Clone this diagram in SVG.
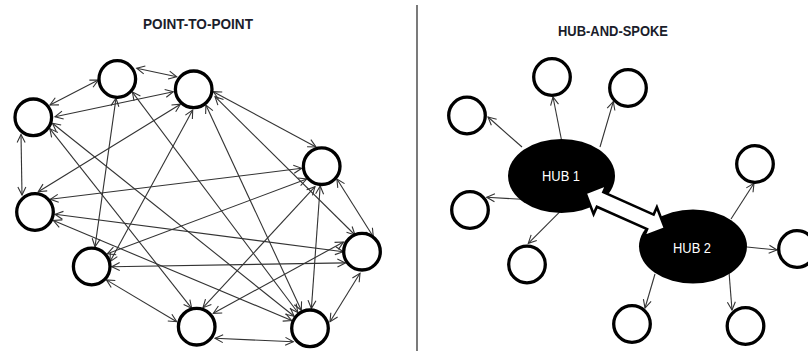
<svg xmlns="http://www.w3.org/2000/svg" width="808" height="351" viewBox="0 0 808 351">
  <defs>
    <!-- open V arrowhead, tip at the line end -->
    <marker id="vhead" viewBox="-10 -6 12 12" refX="0" refY="0" markerWidth="12" markerHeight="12" markerUnits="userSpaceOnUse" orient="auto-start-reverse" overflow="visible">
      <path d="M-8,-4 L0,0 L-8,4" fill="none" stroke="#333" stroke-width="1.1" stroke-linejoin="miter"/>
    </marker>
  </defs>
  <style>
    .title { font-family: "Liberation Sans", Arial, sans-serif; font-weight: bold; font-size: 15px; fill: #1b1d2b; }
    .node { fill: #fff; stroke: #000; stroke-width: 3.3; }
    .hub { fill: #000; }
    .hublabel { font-family: "Liberation Sans", Arial, sans-serif; font-size: 14.5px; fill: #fff; text-anchor: middle; }
    .both { stroke: #333; stroke-width: 1.1; fill: none; marker-start: url(#vhead); marker-end: url(#vhead); }
    .spoke { stroke: #333; stroke-width: 1.1; fill: none; marker-end: url(#vhead); }
    .big { fill: #fff; stroke: #000; stroke-width: 2.6; stroke-linejoin: miter; }
  </style>

  <rect x="0" y="0" width="808" height="351" fill="#fff"/>

  <!-- headings and divider -->
  <text class="title" x="143" y="29" textLength="110" lengthAdjust="spacingAndGlyphs">POINT-TO-POINT</text>
  <text class="title" x="558" y="36" textLength="110" lengthAdjust="spacingAndGlyphs">HUB-AND-SPOKE</text>
  <line x1="417" y1="5" x2="417" y2="351" stroke="#222" stroke-width="1.2"/>

  <!-- mesh links, every pair arrowed both ways -->
  <g id="connectors">
    <line class="both" x1="50" y1="105" x2="98.3" y2="80"/>
    <line class="both" x1="136.7" y1="68.3" x2="176.7" y2="76.7"/>
    <line class="both" x1="55" y1="116.7" x2="173.3" y2="91.7"/>
    <line class="both" x1="21" y1="134.5" x2="22" y2="195"/>
    <line class="both" x1="116" y1="98.3" x2="95" y2="246.7"/>
    <line class="both" x1="180.4" y1="104.2" x2="38.3" y2="191.7"/>
    <line class="both" x1="192.7" y1="110" x2="110" y2="261.7"/>
    <line class="both" x1="132.4" y1="92.1" x2="297.8" y2="312.5"/>
    <line class="both" x1="213.3" y1="91.7" x2="316" y2="147"/>
    <line class="both" x1="215" y1="96.7" x2="355" y2="235"/>
    <line class="both" x1="205.9" y1="105.1" x2="301.3" y2="310.3"/>
    <line class="both" x1="301.7" y1="168.3" x2="50.3" y2="199.3"/>
    <line class="both" x1="306.7" y1="179" x2="107.3" y2="253.8"/>
    <line class="both" x1="315" y1="186.7" x2="203" y2="307.7"/>
    <line class="both" x1="320.2" y1="186" x2="311.4" y2="308.4"/>
    <line class="both" x1="336.9" y1="179" x2="373.3" y2="236.7"/>
    <line class="both" x1="55" y1="214.3" x2="343.3" y2="251.7"/>
    <line class="both" x1="53.4" y1="220.5" x2="291.6" y2="320.5"/>
    <line class="both" x1="111.7" y1="266.7" x2="345.4" y2="262.9"/>
    <line class="both" x1="106.4" y1="279.9" x2="176.7" y2="321.7"/>
    <line class="both" x1="213.3" y1="313.3" x2="343.5" y2="242"/>
    <line class="both" x1="215" y1="338.3" x2="293.3" y2="341.7"/>
    <line class="both" x1="360" y1="273.3" x2="330" y2="321.7"/>
    <line class="both" x1="49.8" y1="128.6" x2="191.7" y2="308.3"/>
    <line class="both" x1="52.4" y1="123.2" x2="294.1" y2="316.2"/>

    <!-- spokes from the hubs -->
    <line class="spoke" x1="522" y1="147" x2="488" y2="117"/>
    <line class="spoke" x1="561.5" y1="140" x2="553" y2="97"/>
    <line class="spoke" x1="600" y1="147" x2="613.3" y2="101.7"/>
    <line class="spoke" x1="521.7" y1="199.3" x2="486.7" y2="197.3"/>
    <line class="spoke" x1="560" y1="211.7" x2="528.3" y2="243.3"/>
    <line class="spoke" x1="731" y1="219" x2="754" y2="183.3"/>
    <line class="spoke" x1="747" y1="247" x2="777" y2="250"/>
    <line class="spoke" x1="729" y1="272" x2="732" y2="310"/>
    <line class="spoke" x1="655" y1="274" x2="645" y2="308"/>
  </g>

  <!-- point-to-point nodes -->
  <g id="p2p-a"><circle class="node" cx="33.3" cy="117.3" r="18.3"/></g>
  <g id="p2p-b"><circle class="node" cx="117.3" cy="79" r="18.3"/></g>
  <g id="p2p-c"><circle class="node" cx="193.7" cy="89.3" r="18.3"/></g>
  <g id="p2p-d"><circle class="node" cx="321.7" cy="166.2" r="18.3"/></g>
  <g id="p2p-e"><circle class="node" cx="35" cy="212" r="18.3"/></g>
  <g id="p2p-f"><circle class="node" cx="91.7" cy="266.5" r="18.3"/></g>
  <g id="p2p-g"><circle class="node" cx="196.7" cy="326.7" r="18.3"/></g>
  <g id="p2p-h"><circle class="node" cx="362" cy="251.7" r="18.3"/></g>
  <g id="p2p-i"><circle class="node" cx="310" cy="328.3" r="18.3"/></g>

  <!-- hubs -->
  <g id="hub1">
    <ellipse class="hub" cx="561.5" cy="176" rx="53.5" ry="37"/>
    <text class="hublabel" x="561" y="181" textLength="38" lengthAdjust="spacingAndGlyphs">HUB 1</text>
  </g>
  <g id="hub2">
    <ellipse class="hub" cx="693" cy="246.5" rx="54" ry="37"/>
    <text class="hublabel" x="692" y="253" textLength="38" lengthAdjust="spacingAndGlyphs">HUB 2</text>
  </g>

  <!-- spoke ends -->
  <g id="spoke-1"><circle class="node" cx="467" cy="115.5" r="18.3"/></g>
  <g id="spoke-2"><circle class="node" cx="552" cy="77" r="18.3"/></g>
  <g id="spoke-3"><circle class="node" cx="628" cy="88" r="18.3"/></g>
  <g id="spoke-4"><circle class="node" cx="755" cy="164" r="18.3"/></g>
  <g id="spoke-5"><circle class="node" cx="797" cy="249" r="18.3"/></g>
  <g id="spoke-6"><circle class="node" cx="745.5" cy="326" r="18.3"/></g>
  <g id="spoke-7"><circle class="node" cx="632" cy="324" r="18.3"/></g>
  <g id="spoke-8"><circle class="node" cx="470" cy="210" r="18.3"/></g>
  <g id="spoke-9"><circle class="node" cx="527" cy="264.5" r="18.3"/></g>

  <!-- wide two-way link between the hubs -->
  <g id="hub-link">
    <polygon class="big" transform="translate(585.5,193) rotate(24)" points="0,0 16,-16 16,-8 71,-8 71,-16 87,0 71,16 71,8 16,8 16,16"/>
  </g>
</svg>
